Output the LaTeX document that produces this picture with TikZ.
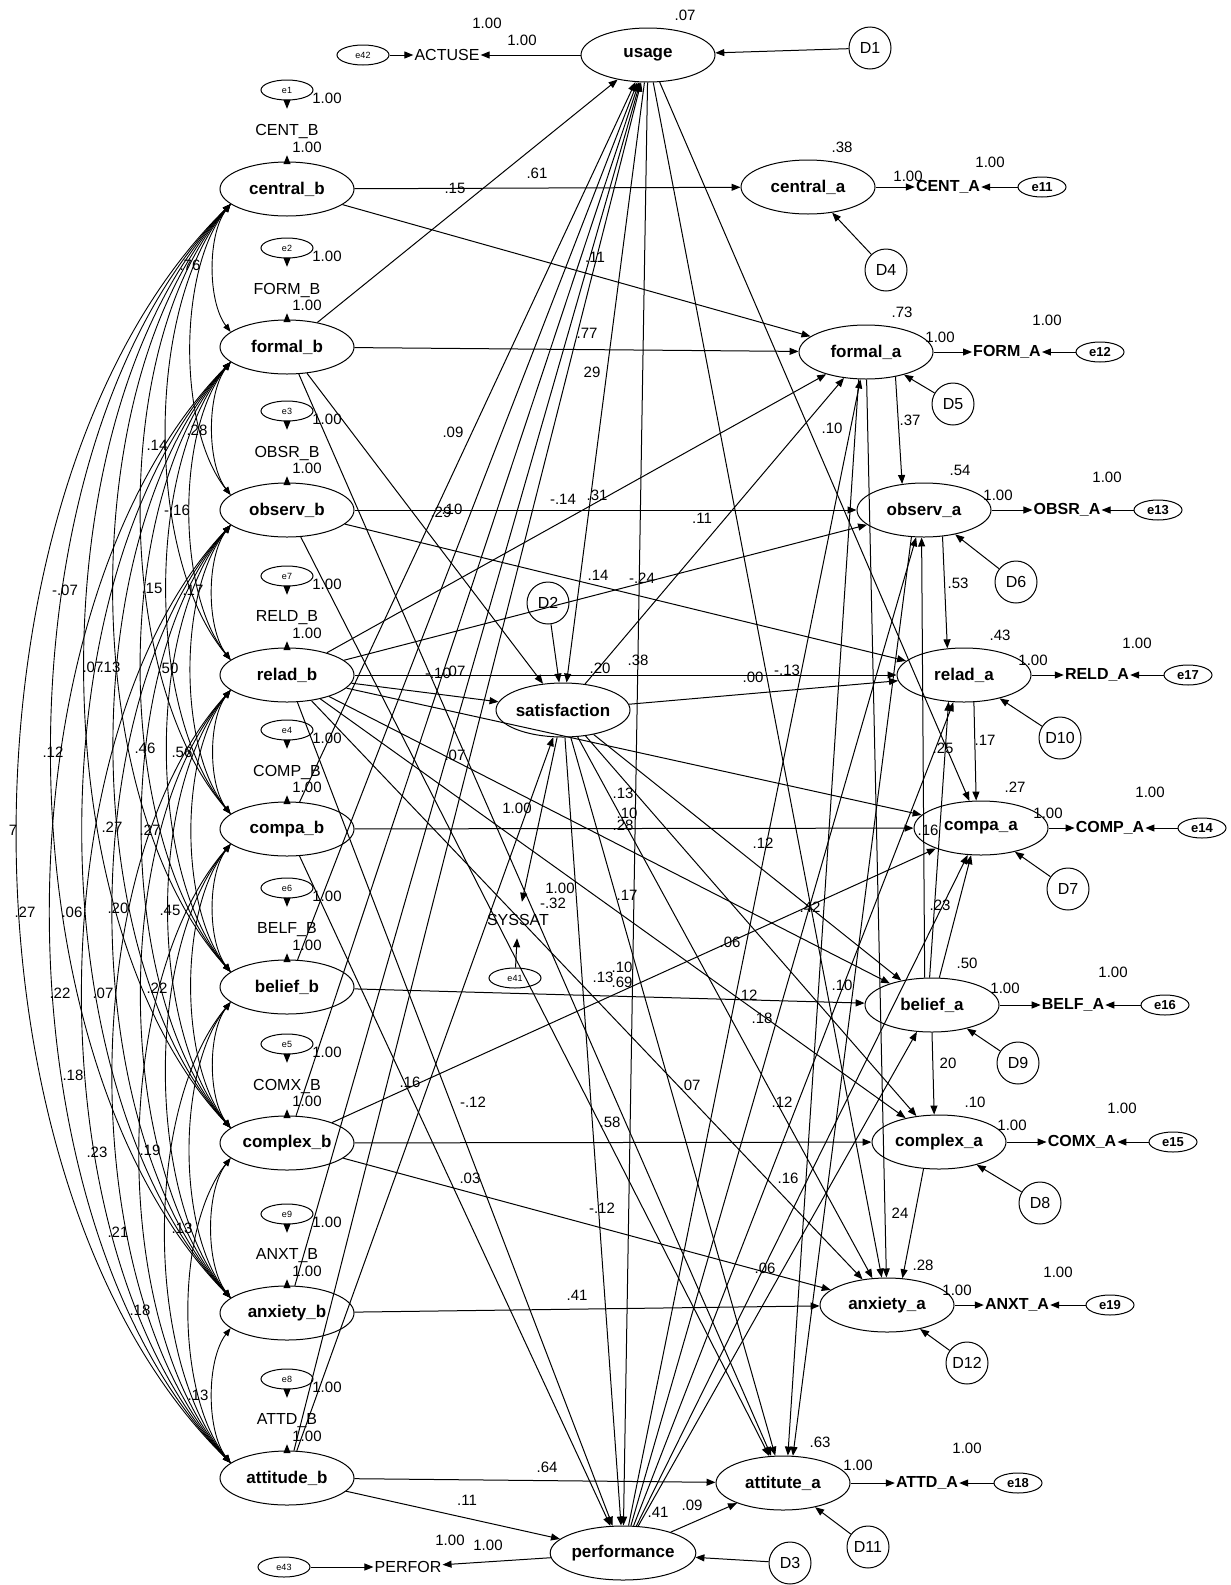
\documentclass[tikz,border=0pt]{standalone}
\usepackage{fontspec}
\setmainfont{Liberation Sans}
\usetikzlibrary{arrows.meta,shapes.geometric,calc}
\begin{document}
\begin{tikzpicture}[x=1pt,y=-1pt,
  lat/.style={draw,ellipse,minimum width=134pt,minimum height=54pt,inner sep=0pt,line width=1pt,font=\fontsize{17}{17}\selectfont\bfseries},
  dist/.style={draw,circle,minimum size=42pt,inner sep=0pt,line width=1pt,font=\fontsize{16}{16}\selectfont},
  errl/.style={draw,ellipse,minimum width=52pt,minimum height=20pt,inner sep=0pt,line width=1pt,font=\fontsize{9}{9}\selectfont},
  errr/.style={draw,ellipse,minimum width=48pt,minimum height=20pt,inner sep=0pt,line width=1pt,font=\fontsize{13}{13}\selectfont\bfseries},
  indl/.style={inner sep=0pt,minimum height=46pt,font=\fontsize{16}{16}\selectfont},
  indr/.style={inner xsep=1pt,inner ysep=0pt,font=\fontsize{16}{16}\selectfont\bfseries},
  obs/.style={inner xsep=1pt,inner ysep=0pt,font=\fontsize{16}{16}\selectfont},
  lab/.style={inner sep=0pt,font=\fontsize{15}{15}\selectfont},
  arr/.style={line width=1pt,-{Triangle[length=9pt,width=7pt]}},
  cov/.style={line width=0.9pt,{Triangle[length=8pt,width=6pt]}-{Triangle[length=8pt,width=6pt]}},
]
\fill[white] (0,0) rectangle (1231,1585);
\useasboundingbox (0,0) rectangle (1231,1585);

% baseline latent variables with their indicators and error terms
\foreach \n/\y/\txt/\ind/\e in {
  cb/189/central\_b/CENT\_B/e1, fb/347/formal\_b/FORM\_B/e2,
  ob/510/observ\_b/OBSR\_B/e3, rb/675/relad\_b/RELD\_B/e7,
  pb/829/compa\_b/COMP\_B/e4, lb/987/belief\_b/BELF\_B/e6,
  xb/1143/complex\_b/COMX\_B/e5, nb/1313/anxiety\_b/ANXT\_B/e9,
  tb/1478/attitude\_b/ATTD\_B/e8}{
  \node[lat] (\n) at (287,\y) {\txt};
  \node[errl] (E\n) at (287,\y-99) {\e};
  \node[indl] (I\n) at (287,\y-57) {\ind};
  \draw[arr] (E\n) -- (I\n);
  \draw[arr] (\n) -- (I\n);
  \node[lab] (L\n) at (327,\y-91) {1.00};
  \node[lab] (M\n) at (307,\y-42) {1.00};
}

% follow-up latent variables with their indicators and error terms
\foreach \n/\x/\y/\txt/\ind/\ix/\e/\ex in {
  ca/808/187/central\_a/CENT\_A/948/e11/1042,
  fa/866/352/formal\_a/FORM\_A/1007/e12/1100,
  oa/924/510/observ\_a/OBSR\_A/1067/e13/1158,
  ra/964/675/relad\_a/RELD\_A/1097/e17/1188,
  pa/981/828/compa\_a/COMP\_A/1110/e14/1202,
  la/932/1005/belief\_a/BELF\_A/1073/e16/1165,
  xa/939/1142/complex\_a/COMX\_A/1082/e15/1173,
  na/887/1305/anxiety\_a/ANXT\_A/1017/e19/1110,
  ta/783/1483/attitute\_a/ATTD\_A/927/e18/1018}{
  \node[lat] (\n) at (\x,\y) {\txt};
  \node[indr] (I\n) at (\ix,\y) {\ind};
  \node[errr] (E\n) at (\ex,\y) {\e};
  \draw[arr] (\n) -- (I\n);
  \draw[arr] (E\n) -- (I\n);
}

% outcome variables
\node[lat] (us) at (648,55) {usage};
\node[lat] (sa) at (563,710) {satisfaction};
\node[lat] (pf) at (623,1553) {performance};

\node[obs] (ACT) at (447,55) {ACTUSE};
\node[errl] (e42) at (363,55) {e42};
\draw[arr] (us) -- (ACT);
\draw[arr] (e42) -- (ACT);

\node[obs,minimum height=36pt] (SYS) at (518,920) {SYSSAT};
\node[errl] (e41) at (515,978) {e41};
\draw[arr] (sa) -- (SYS);
\draw[arr] (e41) -- (SYS);

\node[obs] (PER) at (408,1567) {PERFOR};
\node[errl] (e43) at (284,1567) {e43};
\draw[arr] (pf) -- (PER);
\draw[arr] (e43) -- (PER);

% disturbances
\foreach \n/\x/\y/\t in {D1/870/48/us, D4/886/270/ca, D5/953/404/fa, D6/1016/582/oa,
  D10/1060/738/ra, D7/1068/889/pa, D9/1018/1063/la, D8/1040/1203/xa,
  D12/967/1363/na, D11/868/1547/ta, D3/790/1563/pf, D2/548/603/sa}{
  \node[dist] (\n) at (\x,\y) {\n};
  \draw[arr] (\n) -- (\t);
}

% structural paths
\foreach \s/\t in {cb/ca, cb/fa,
  fb/us, fb/fa, fb/sa, fb/ta,
  ob/oa, ob/ra, ob/ta,
  rb/fa, rb/oa, rb/sa, rb/ra, rb/pa, rb/la, rb/xa, rb/na, rb/pf,
  pb/us, pb/pa, pb/pf,
  lb/us, lb/la,
  xb/us, xb/pa, xb/xa, xb/na,
  nb/us, nb/na,
  tb/us, tb/sa, tb/ta, tb/pf,
  us/sa, us/pf, us/pa, us/na,
  sa/fa, sa/ra, sa/la, sa/xa, sa/na, sa/ta, sa/pf,
  pf/fa, pf/oa, pf/ra, pf/pa, pf/la, pf/ta,
  fa/na}{
  \draw[arr] (\s) -- (\t);
}
\draw[arr] (fa.320) -- (oa.130);
\draw[arr] (oa.305) -- (ra.122);
\draw[arr] (ra.290) -- (pa.100);
\draw[arr] (la.105) -- (oa.265);
\draw[arr] (la.95) -- (ra.240);
\draw[arr] (la.75) -- (pa.250);
\draw[arr] (la.270) -- (xa.100);
\draw[arr] (xa.240) -- (na.60);
\draw[arr] (fa.255) -- (ta.80);
\draw[arr] (oa.245) -- (ta.70);

% covariances among the baseline variables
\foreach \p/\yp [count=\i] in {cb/189,fb/347,ob/510,rb/675,pb/829,lb/987,xb/1143,nb/1313,tb/1478}{
  \foreach \q/\yq [count=\j] in {cb/189,fb/347,ob/510,rb/675,pb/829,lb/987,xb/1143,nb/1313,tb/1478}{
    \ifnum\j>\i
      \pgfmathsetmacro\dd{\yq-\yp-20}
      \pgfmathsetmacro\kk{0.16+0.008*(\j-\i)}
      \draw[cov] (\p.195) .. controls ($(\p.195)+(-\kk*\dd,0.22*\dd)$) and ($(\q.165)+(-\kk*\dd,-0.22*\dd)$) .. (\q.165);
    \fi
  }
}

% estimates
\foreach \t/\x/\y [count=\k] in {
  1.00/487/23, 1.00/522/40, .07/685/15,
  .38/842/147, 1.00/908/176, 1.00/990/162,
  .61/537/173, .15/455/188, .11/595/257, .77/587/333, 29/592/372,
  .76/190/265,
  .73/902/312, 1.00/940/337, 1.00/1047/320,
  .09/453/432, .10/832/428, .37/910/420,
  .54/960/470, 1.00/998/495, 1.00/1107/477,
  .29/441/512, .10/452/509,
  -.14/563/499, .31/597/495, .11/702/518,
  .14/157/445, .28/197/430, -.16/177/510,
  .53/958/583, .14/598/575, -.24/642/578,
  -.07/65/590, .15/152/588, .17/193/590,
  .43/1000/635, 1.00/1033/660, 1.00/1137/643,
  .20/600/668, .38/638/660, -.10/438/673, .07/455/671, .00/753/677, -.13/787/670,
  .07/93/667, .13/110/667, .50/168/668,
  .25/943/748, .17/985/740, .07/455/755,
  .12/53/752, .46/145/748, .56/182/752,
  .27/1015/787, 1.00/1150/792, .13/623/793,
  .10/627/813, .28/623/825, 1.00/517/808,
  .16/928/830, 1.00/1048/813,
  7/13/830, .27/112/827, .27/150/830,
  .12/763/843, .17/627/895, 1.00/560/888, -.32/553/903,
  .42/810/907, .23/940/905,
  .27/25/912, .06/72/912, .20/118/908, .45/170/910,
  .06/730/942, .50/967/963, .13/603/977, .10/622/967, .69/622/982,
  1.00/1005/988, 1.00/1113/972, .10/842/985,
  .22/60/993, .07/103/993, .22/157/988,
  .12/747/995, .18/762/1018,
  20/948/1063,
  .18/73/1075, .16/410/1082, -.12/473/1102, .07/690/1085, .12/782/1102,
  .10/975/1102, 1.00/1012/1125, 1.00/1122/1108,
  .58/610/1122,
  .23/97/1152, .19/150/1150,
  .03/470/1178, .16/788/1178,
  -.12/602/1208, 24/900/1213,
  .21/118/1232, .13/182/1228,
  .28/923/1265, .06/765/1268, 1.00/957/1290, 1.00/1058/1272,
  .41/577/1295,
  .18/140/1310,
  .13/198/1395,
  .63/820/1442, 1.00/858/1465, 1.00/967/1448,
  .64/547/1467, .11/467/1500, .41/658/1512, .09/692/1505,
  1.00/450/1540, 1.00/488/1545}{
  \node[lab] (est\k) at (\x,\y) {\t};
}
\end{tikzpicture}
\end{document}
